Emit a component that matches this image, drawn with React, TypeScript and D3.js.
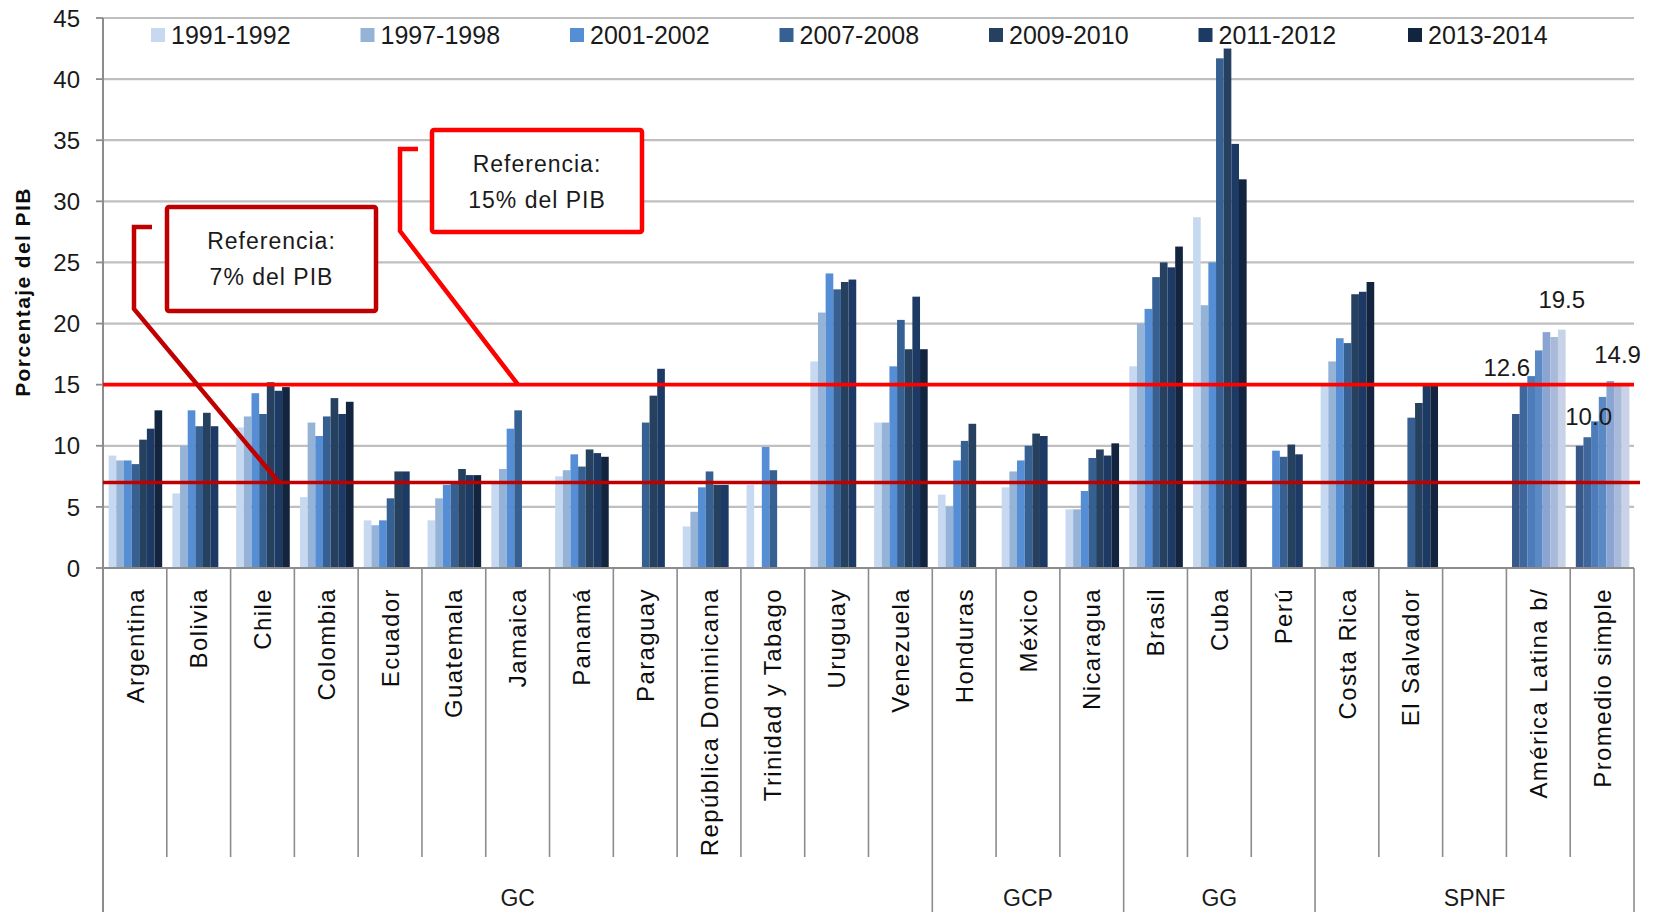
import React from "react";
import * as d3 from "d3";

// ---------- DATA ----------
const categories = [
  "Argentina", "Bolivia", "Chile", "Colombia", "Ecuador", "Guatemala", "Jamaica",
  "Panamá", "Paraguay", "República Dominicana", "Trinidad y Tabago", "Uruguay",
  "Venezuela", "Honduras", "México", "Nicaragua", "Brasil", "Cuba", "Perú",
  "Costa Rica", "El Salvador", "", "América Latina b/", "Promedio simple",
];
const groupNames = ["GC", "GCP", "GG", "SPNF"];
const groupSizes = [13, 3, 3, 5];

const periods = ["1991-1992", "1997-1998", "2001-2002", "2007-2008", "2009-2010", "2011-2012", "2013-2014"];

const v1991 = [9.2, 6.1, 11.5, 5.8, 3.9, 3.9, 6.9, 7.5, null, 3.4, 6.8, 16.9, 11.9, 6.0, 6.6, 4.8, 16.5, 28.7, null, 15.0, null, null, 12.6, 10.0];
const v1997 = [8.8, 10.0, 12.4, 11.9, 3.5, 5.7, 8.1, 8.0, null, 4.6, null, 20.9, 11.9, 5.0, 7.9, 4.8, 20.0, 21.5, null, 16.9, null, null, 15.0, 10.7];
const v2001 = [8.8, 12.9, 14.3, 10.8, 3.9, 6.8, 11.4, 9.3, null, 6.6, 9.9, 24.1, 16.5, 8.8, 8.8, 6.3, 21.2, 25.0, 9.6, 18.8, null, null, 15.7, 12.0];
const v2007 = [8.5, 11.6, 12.6, 12.4, 5.7, 7.0, 12.9, 8.3, 11.9, 7.9, 8.0, 22.8, 20.3, 10.4, 10.0, 9.0, 23.8, 41.7, 9.1, 18.4, 12.3, null, 17.8, 14.0];
const v2009 = [10.5, 12.7, 15.2, 13.9, 7.9, 8.1, null, 9.7, 14.1, 6.8, null, 23.4, 17.9, 11.8, 11.0, 9.7, 25.0, 42.5, 10.1, 22.4, 13.5, null, 19.3, 15.3];
const v2011 = [11.4, 11.6, 14.5, 12.6, 7.9, 7.6, null, 9.4, 16.3, 6.8, null, 23.6, 22.2, null, 10.8, 9.2, 24.6, 34.7, 9.3, 22.6, 15.0, null, 18.9, 14.9];
const v2013 = [12.9, null, 14.8, 13.6, null, 7.6, null, 9.1, null, null, null, null, 17.9, null, null, 10.2, 26.3, 31.8, null, 23.4, 15.1, null, 19.5, 14.9];
const seriesValues = [v1991, v1997, v2001, v2007, v2009, v2011, v2013];

const periodColors = ["#c6d9f1", "#95b3d7", "#558ed5", "#376092", "#26405f", "#1c3a63", "#12243e"];
const summaryCategories = ["América Latina b/", "Promedio simple"];
const summaryColors = ["#36598a", "#3f679b", "#4c7cb9", "#5a89c4", "#8aa5d1", "#a8b9d9", "#c8d3e8"];

const yTicks = [0, 5, 10, 15, 20, 25, 30, 35, 40, 45];

const referenceLevels = [15, 7];
const referenceTexts = [["Referencia:", "15% del PIB"], ["Referencia:", "7% del PIB"]];

const labelCategories = ["América Latina b/", "América Latina b/", "Promedio simple", "Promedio simple"];
const labelSeries = [0, 6, 0, 6];

// ---------- STYLES ----------
const FONT = "'Liberation Sans', Arial, sans-serif";
const labelOffsets = [
  { dx: -9, dy: -38 },
  { dx: 0, dy: -22 },
  { dx: 9, dy: -21 },
  { dx: -8, dy: -23 },
];
const refColors = ["#ff0000", "#c00000"];
const calloutBoxes = [
  { x: 432, y: 130, w: 210, h: 102, path: "M418,149 H400 V231" },
  { x: 167, y: 207, w: 209, h: 104, path: "M152,227 H134 V309" },
];
const calloutTargets = [518, 279];

export default function App() {
  const W = 1658;
  const H = 912;
  const left = 103;
  const right = 1634;
  const top = 18;
  const bottom = 568;

  const x = d3.scaleBand<number>().domain(d3.range(categories.length)).range([left, right]);
  const y = d3.scaleLinear().domain([0, 45]).range([bottom, top]);
  const bw = x.bandwidth();
  const groupW = bw * 0.84;
  const inner = d3.scaleBand<number>().domain(d3.range(periods.length)).range([0, groupW]);
  const off = (bw - groupW) / 2 + 0.5;

  // group boundaries
  const groupStarts: number[] = [];
  let acc = 0;
  groupSizes.forEach((s) => {
    groupStarts.push(acc);
    acc += s;
  });
  const groupBoundaryIdx = new Set<number>([...groupStarts, categories.length]);

  const bars: JSX.Element[] = [];
  seriesValues.forEach((vals, s) => {
    vals.forEach((v, c) => {
      if (v === null || v === undefined) return;
      const isSummary = summaryCategories.includes(categories[c]);
      const x0 = (x(c) as number) + off + (inner(s) as number);
      bars.push(
        <rect
          key={`b-${s}-${c}`}
          x={x0}
          y={y(v)}
          width={inner.bandwidth()}
          height={y(0) - y(v)}
          fill={isSummary ? summaryColors[s] : periodColors[s]}
        />
      );
    });
  });

  return (
    <svg
      width={W}
      height={H}
      style={{ position: "absolute", left: 0, top: 0, background: "#fff" }}
      fontFamily={FONT}
    >
      <rect x={0} y={0} width={W} height={H} fill="#fff" />
      {/* gridlines */}
      {yTicks.map((t) => (
        <g key={`g-${t}`}>
          {t > 0 && (
            <line x1={left} x2={right} y1={y(t)} y2={y(t)} stroke="#bfbfbf" strokeWidth={2.2} />
          )}
          <line x1={left - 7} x2={left} y1={y(t)} y2={y(t)} stroke="#8c8c8c" strokeWidth={1.8} />
          <text
            x={80}
            y={y(t)}
            dy="0.36em"
            textAnchor="end"
            fontSize={24}
            fill="#1a1a1a"
          >
            {t}
          </text>
        </g>
      ))}

      {/* bars */}
      {bars}

      {/* axes */}
      <line x1={left} x2={left} y1={top} y2={H} stroke="#8c8c8c" strokeWidth={2} />
      <line x1={left} x2={right} y1={bottom} y2={bottom} stroke="#8c8c8c" strokeWidth={2} />
      {d3.range(1, categories.length + 1).map((i) => {
        const xx = i === categories.length ? right : (x(i) as number);
        return (
          <line
            key={`sep-${i}`}
            x1={xx}
            x2={xx}
            y1={bottom}
            y2={groupBoundaryIdx.has(i) ? H : 857}
            stroke="#8c8c8c"
            strokeWidth={1.6}
          />
        );
      })}

      {/* category labels */}
      {categories.map((c, i) => (
        <text
          key={`cl-${i}`}
          transform={`translate(${(x(i) as number) + bw / 2},588) rotate(-90)`}
          textAnchor="end"
          dy="0.36em"
          fontSize={24}
          letterSpacing={1.4}
          fill="#0d0d0d"
        >
          {c}
        </text>
      ))}

      {/* group labels */}
      {groupNames.map((g, gi) => {
        const s = groupStarts[gi];
        const e = s + groupSizes[gi];
        const x0 = x(s) as number;
        const x1 = e >= categories.length ? right : (x(e) as number);
        return (
          <text
            key={`gl-${g}`}
            x={(x0 + x1) / 2}
            y={906}
            textAnchor="middle"
            fontSize={23}
            fill="#1a1a1a"
          >
            {g}
          </text>
        );
      })}

      {/* reference lines */}
      {referenceLevels.map((lv, i) => (
        <line
          key={`ref-${lv}`}
          x1={left}
          x2={i === 0 ? right : right + 6}
          y1={y(lv)}
          y2={y(lv)}
          stroke={refColors[i]}
          strokeWidth={3.6}
        />
      ))}

      {/* callouts */}
      {referenceLevels.map((lv, i) => {
        const b = calloutBoxes[i];
        const bottomY = Number(b.path.split("V")[1]);
        const startX = Number(b.path.split("H")[1].split(" ")[0]);
        return (
          <g key={`co-${lv}`}>
            <path
              d={`${b.path} L${calloutTargets[i]},${y(lv)}`}
              fill="none"
              stroke={refColors[i]}
              strokeWidth={4.5}
              strokeLinejoin="miter"
            />
            <rect
              x={b.x}
              y={b.y}
              width={b.w}
              height={b.h}
              fill="#fff"
              stroke={refColors[i]}
              strokeWidth={4.5}
              rx={2}
            />
            {referenceTexts[i].map((t, k) => (
              <text
                key={`ct-${k}`}
                x={b.x + b.w / 2}
                y={b.y + 42 + k * 36}
                textAnchor="middle"
                fontSize={23}
                letterSpacing={1}
                fill="#1a1a1a"
              >
                {t}
              </text>
            ))}
            <g data-start={startX} data-bottom={bottomY} />
          </g>
        );
      })}

      {/* data labels */}
      {labelCategories.map((c, i) => {
        const ci = categories.indexOf(c);
        const s = labelSeries[i];
        const v = seriesValues[s][ci] as number;
        const cx = (x(ci) as number) + off + (inner(s) as number) + inner.bandwidth() / 2;
        return (
          <text
            key={`dl-${i}`}
            x={cx + labelOffsets[i].dx}
            y={y(v) + labelOffsets[i].dy}
            textAnchor="middle"
            fontSize={24}
            fill="#1a1a1a"
          >
            {v.toFixed(1)}
          </text>
        );
      })}

      {/* legend */}
      {periods.map((p, i) => {
        const lx = 151 + i * 209.5;
        return (
          <g key={`lg-${p}`}>
            <rect x={lx} y={28} width={14} height={14} fill={periodColors[i]} />
            <text x={lx + 20} y={44} fontSize={25} fill="#1a1a1a">
              {p}
            </text>
          </g>
        );
      })}

      {/* y axis title */}
      <text
        transform={`translate(30,292) rotate(-90)`}
        textAnchor="middle"
        fontSize={21}
        fontWeight="bold"
        letterSpacing={1.4}
        fill="#0d0d0d"
      >
        Porcentaje del PIB
      </text>
    </svg>
  );
}
